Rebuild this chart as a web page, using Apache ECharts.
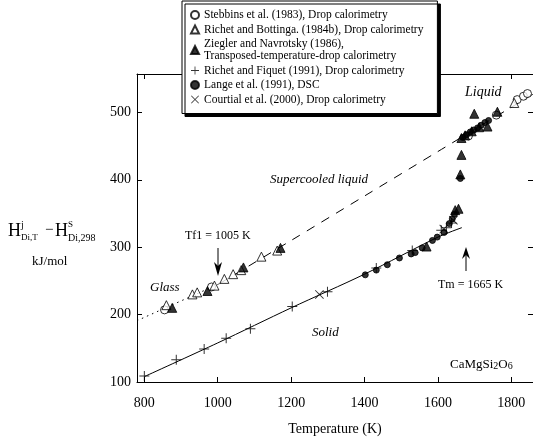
<!DOCTYPE html>
<html><head><meta charset="utf-8">
<script src="https://cdn.jsdelivr.net/npm/echarts@6/dist/echarts.min.js"></script>
<style>html,body{margin:0;padding:0;background:#fff}#c{width:533px;height:441px}</style>
</head><body><div id="c"></div>
<script>
// Tick values
const xTicks = [800, 1000, 1200, 1400, 1600, 1800];
const yTicks = [100, 200, 300, 400, 500];

// Measured enthalpy data [T (K), H (kJ/mol)]
const stebbins = [[855,207],[983,241],[1683,465],[1759,496],[1816,519],[1833,524],[1844,528]];
const richetBottinga = [[860,214],[931,230],[944,233],[991,243],[1018,253],[1042,260],[1064,266],[1119,286],[1162,295],[1808,514]];
const ziegler = [[876,210],[972,235],[1070,270],[1171,299],[1569,301],[1647,355],[1656,357],[1661,408],[1664,437],[1664,462],[1674,466],[1692,472],[1699,498],[1712,478],[1735,479],[1762,501]];
const richetFiquet = [[800,109],[887,133],[963,149],[1023,165],[1089,179],[1203,212],[1299,234],[1432,269],[1530,295],[1609,325],[1623,329],[1637,336]];
const lange = [[1402,259],[1432,266],[1462,274],[1495,284],[1527,290],[1538,292],[1557,299],[1585,310],[1598,315],[1617,322],[1631,335],[1639,342],[1645,349],[1661,402],[1668,463],[1678,467],[1688,471],[1698,474],[1708,477],[1718,481],[1728,485],[1738,488]];
const courtial = [[1277,230],[1616,327],[1642,340]];

// Fitted curves
const solidFit = [[800,108],[1000,158],[1200,210],[1400,260],[1600,315],[1665,329]];
const liquidFit = [[1005,246],[1200,310],[1400,376],[1600,442],[1859,527]];
const glassFit = [[780,191],[1005,246]];

const seriesNames = [
  'Stebbins et al. (1983), Drop calorimetry',
  'Richet and Bottinga. (1984b), Drop calorimetry',
  'Ziegler and Navrotsky (1986),\nTransposed-temperature-drop calorimetry',
  'Richet and Fiquet (1991), Drop calorimetry',
  'Lange et al. (1991), DSC',
  'Courtial et al. (2000), Drop calorimetry'
];

const SERIF = '"Liberation Serif", "Times New Roman", serif';
const PLUS = 'path://M4.5,0H5.5V4.5H10V5.5H5.5V10H4.5V5.5H0V4.5H4.5Z';
const CROSS = 'path://M0.7,0L5,4.3L9.3,0L10,0.7L5.7,5L10,9.3L9.3,10L5,5.7L0.7,10L0,9.3L4.3,5L0,0.7Z';

const chart = echarts.init(document.getElementById('c'), null, {renderer: 'canvas'});

function scatter(name, data, symbol, size, fill, border) {
  return {
    name, type: 'scatter', data, symbol, symbolSize: size,
    itemStyle: {color: fill, borderColor: '#000', borderWidth: border},
    emphasis: {disabled: true}, z: 5
  };
}
function fitLine(data, type) {
  return {
    type: 'line', data, symbol: 'none', silent: true, smooth: 0.3,
    lineStyle: {color: '#000', width: 1, type: type},
    z: 3
  };
}

const axisLine = {show: true, lineStyle: {color: '#000', width: 1}};
const labelStyle = {fontFamily: SERIF, fontSize: 14, color: '#000', formatter: v => String(v)};

chart.setOption({
  animation: false,
  backgroundColor: '#fff',
  grid: {left: 137, right: 0, top: 74, bottom: 50},
  legend: {
    orient: 'vertical', left: 182, top: 1,
    data: seriesNames,
    itemWidth: 8, itemHeight: 8, itemGap: 2.5,
    padding: [8, 14, 8, 8],
    backgroundColor: '#fff', borderColor: '#000', borderWidth: 1,
    shadowColor: '#000', shadowBlur: 0, shadowOffsetX: 3, shadowOffsetY: 3,
    textStyle: {fontFamily: SERIF, fontSize: 11.5, color: '#000', lineHeight: 12},
    selectedMode: false
  },
  xAxis: [{
    type: 'value', min: 780, max: 1859, position: 'bottom',
    axisLine, splitLine: {show: false},
    axisTick: {inside: true, length: 5, customValues: xTicks, lineStyle: {color: '#000'}},
    axisLabel: Object.assign({customValues: xTicks, margin: 14}, labelStyle),
    name: 'Temperature (K)', nameLocation: 'middle', nameGap: 40,
    nameTextStyle: {fontFamily: SERIF, fontSize: 14, color: '#000'}
  }, {
    type: 'value', min: 780, max: 1859, position: 'top',
    axisLine, splitLine: {show: false},
    axisTick: {inside: true, length: 5, customValues: xTicks, lineStyle: {color: '#000'}},
    axisLabel: {show: false}
  }],
  yAxis: [{
    type: 'value', min: 100, max: 557, position: 'left',
    axisLine, splitLine: {show: false},
    axisTick: {inside: true, length: 5, customValues: yTicks, lineStyle: {color: '#000'}},
    axisLabel: Object.assign({customValues: yTicks, margin: 6}, labelStyle)
  }, {
    type: 'value', min: 100, max: 557, position: 'right',
    axisLine, splitLine: {show: false},
    axisTick: {inside: true, length: 5, customValues: yTicks, lineStyle: {color: '#000'}},
    axisLabel: {show: false}
  }],
  series: [
    fitLine(solidFit, 'solid'),
    fitLine(liquidFit, [9, 8]),
    fitLine(glassFit, [1.5, 4]),
    scatter(seriesNames[0], stebbins, 'circle', 8, '#fff', 1),
    scatter(seriesNames[1], richetBottinga, 'triangle', 9, '#fff', 1),
    scatter(seriesNames[2], ziegler, 'triangle', 9, '#000', 1),
    scatter(seriesNames[3], richetFiquet, PLUS, 10, '#000', 0),
    scatter(seriesNames[4], lange, 'circle', 6, '#000', 1),
    scatter(seriesNames[5], courtial, CROSS, 9, '#000', 0)
  ],
  graphic: [
    // y-axis title: H^j_{Di,T} - H^S_{Di,298}
    {type: 'text', left: 8, top: 222, style: {text: 'H', font: '18px ' + SERIF, fill: '#000'}},
    {type: 'text', left: 21, top: 220, style: {text: 'j', font: '10px ' + SERIF, fill: '#000'}},
    {type: 'text', left: 21, top: 233, style: {text: 'Di,T', font: '9px ' + SERIF, fill: '#000'}},
    {type: 'text', left: 45, top: 223, style: {text: '\u2212', font: '15px ' + SERIF, fill: '#000'}},
    {type: 'text', left: 55, top: 222, style: {text: 'H', font: '18px ' + SERIF, fill: '#000'}},
    {type: 'text', left: 68, top: 220, style: {text: 'S', font: '9px ' + SERIF, fill: '#000'}},
    {type: 'text', left: 68, top: 233, style: {text: 'Di,298', font: '10px ' + SERIF, fill: '#000'}},
    {type: 'text', left: 32, top: 255, style: {text: 'kJ/mol', font: '13px ' + SERIF, fill: '#000'}},
    // region labels
    {type: 'text', left: 465, top: 85, style: {text: 'Liquid', font: 'italic 14px ' + SERIF, fill: '#000'}},
    {type: 'text', left: 270, top: 173, style: {text: 'Supercooled liquid', font: 'italic 13px ' + SERIF, fill: '#000'}},
    {type: 'text', left: 150, top: 281, style: {text: 'Glass', font: 'italic 13px ' + SERIF, fill: '#000'}},
    {type: 'text', left: 312, top: 326, style: {text: 'Solid', font: 'italic 13px ' + SERIF, fill: '#000'}},
    {type: 'text', left: 185, top: 230, style: {text: 'Tf1 = 1005 K', font: '12px ' + SERIF, fill: '#000'}},
    {type: 'text', left: 438, top: 279, style: {text: 'Tm = 1665 K', font: '12px ' + SERIF, fill: '#000'}},
    {type: 'text', left: 450, top: 358, style: {
      text: 'CaMgSi{s|2}O{s|6}', font: '13px ' + SERIF, fill: '#000',
      rich: {s: {fontFamily: SERIF, fontSize: 10, padding: [4, 0, 0, 0]}}
    }},
    // glass transition arrow
    {type: 'line', shape: {x1: 218, y1: 248, x2: 218, y2: 268}, style: {stroke: '#000', lineWidth: 1}},
    {type: 'polygon', shape: {points: [[214, 262], [218, 276], [222, 262], [218, 266]]}, style: {fill: '#000'}},
    // melting arrow
    {type: 'line', shape: {x1: 466, y1: 252, x2: 466, y2: 271}, style: {stroke: '#000', lineWidth: 1}},
    {type: 'polygon', shape: {points: [[462, 259], [466, 247], [470, 259], [466, 255]]}, style: {fill: '#000'}}
  ]
});
</script>
</body></html>
